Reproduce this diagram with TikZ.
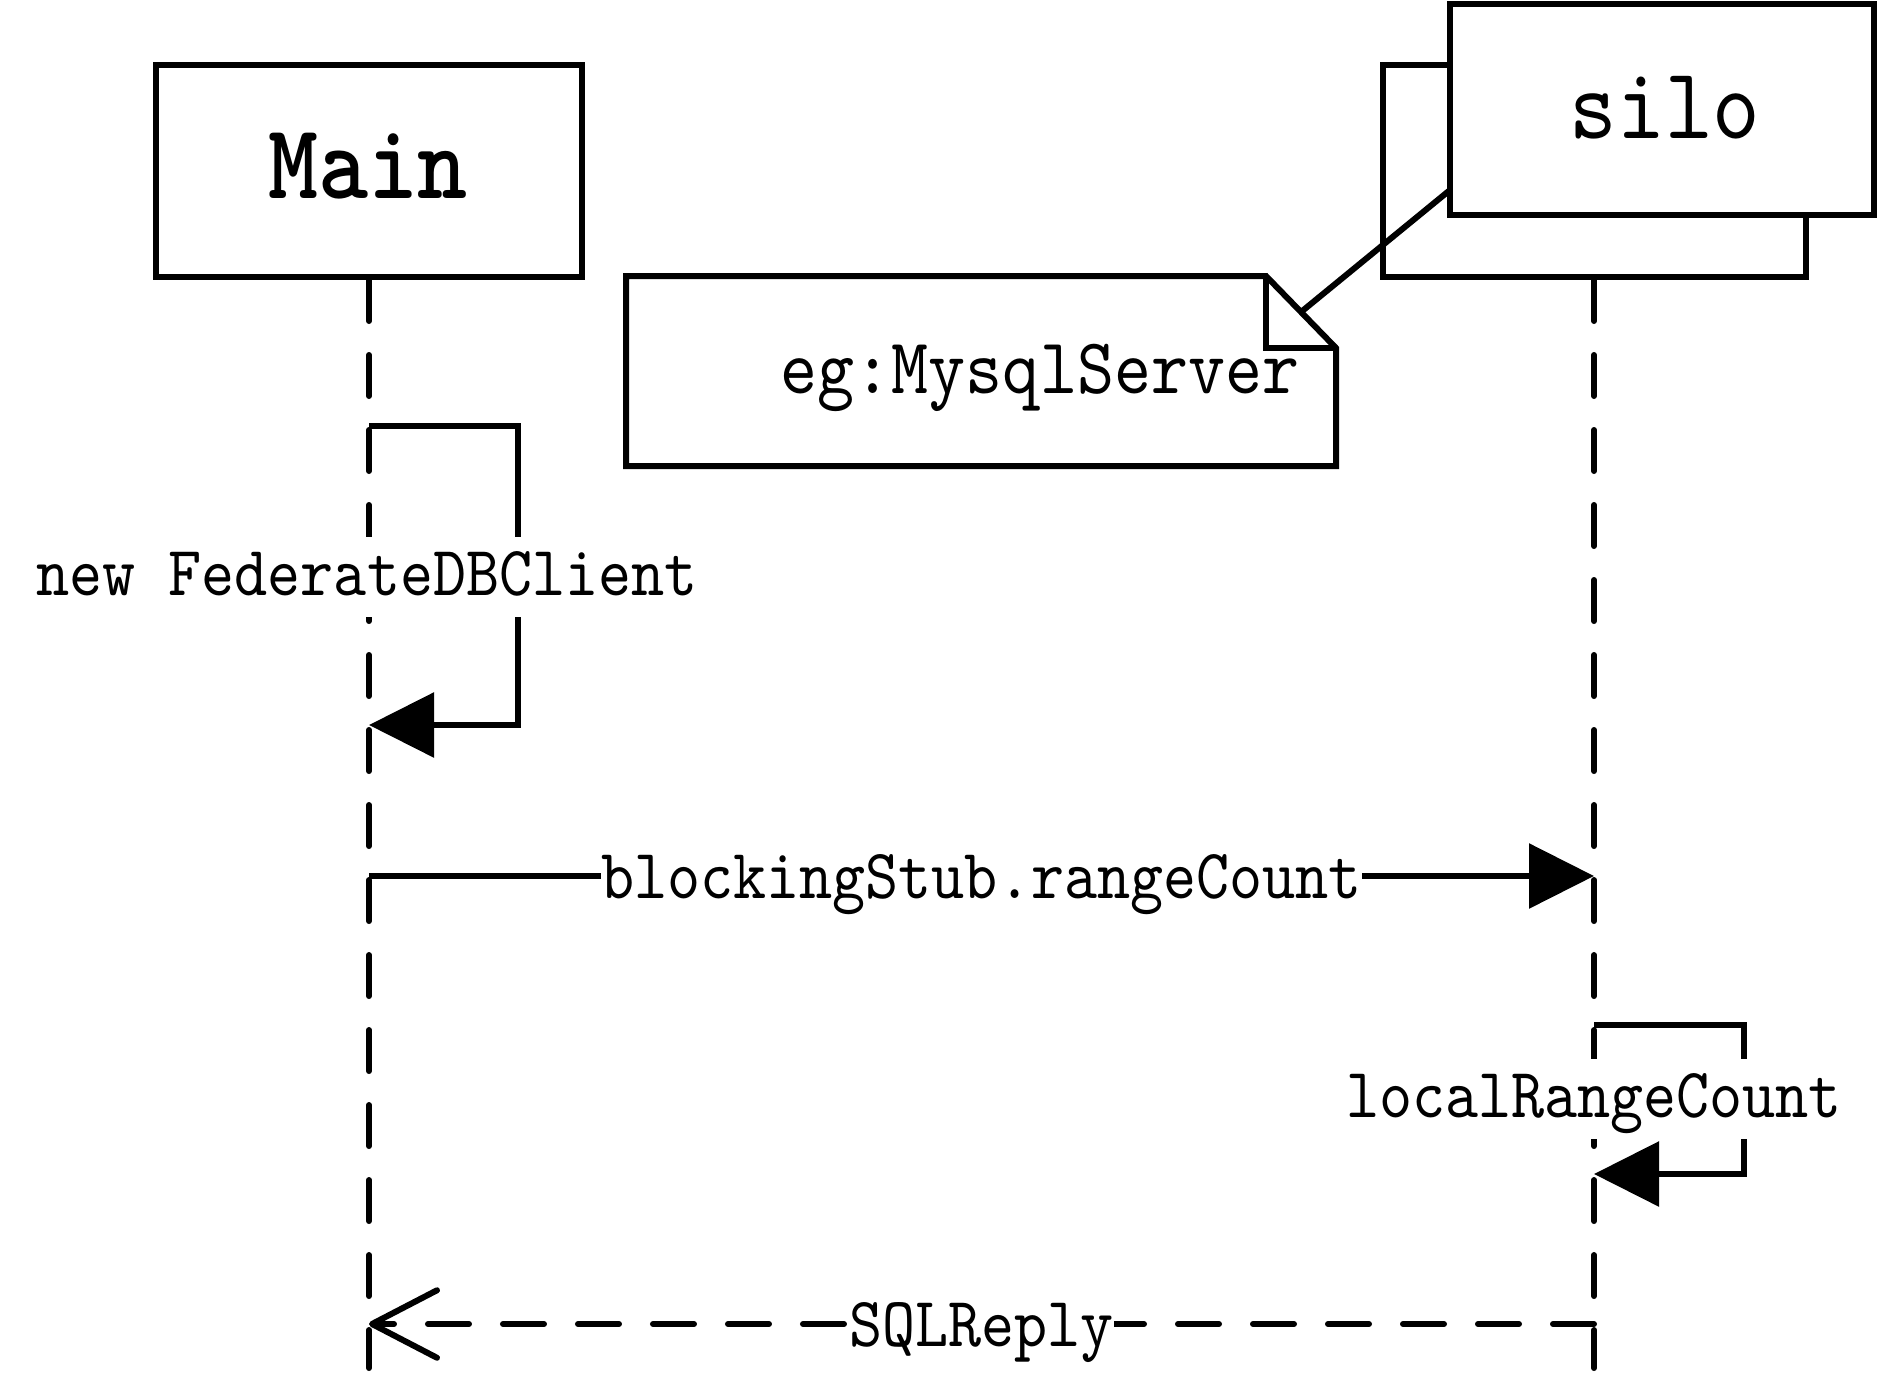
\documentclass[tikz,border=0pt]{standalone}
\usepackage{fontspec}
\newfontfamily\lblfont{lmmono10-regular.otf}[FakeStretch=0.89, BoldFont=lmmonolt10-bold.otf, BoldFeatures={FakeStretch=0.89}]
\usetikzlibrary{arrows.meta,calc}
\begin{document}
\begin{tikzpicture}[x=0.4pt,y=-0.4pt,
  lw/.style={line width=2.4pt},
  objbox/.style={draw, line width=2.4pt, fill=white, inner sep=0pt, line join=miter},
  boxtext/.style={anchor=base, inner sep=0pt},
  lifeline/.style={line width=2.4pt, line cap=round, dash pattern=on 16.4pt off 13.6pt},
  msg/.style={line width=2.4pt, line join=miter, -{Triangle[length=26pt,width=25.6pt]}},
  reply/.style={line width=2.4pt, line cap=round, dash pattern=on 16.4pt off 13.6pt, -{Straight Barb[length=26pt,width=27pt,round]}},
  lbl/.style={font=\lblfont\fontsize{28.3pt}{32pt}\selectfont, fill=white, inner xsep=0pt, inner ysep=0pt, text height=23.2pt, text depth=8.8pt, anchor=base}
]
\useasboundingbox (0,0) rectangle (1881,1388);
\fill[white] (0,0) rectangle (1881,1388);

% objects
\node[objbox, minimum width=170.4pt, minimum height=84.8pt] (main) at (369,171) {};
\node[boxtext, font=\lblfont\bfseries\fontsize{42.8pt}{48pt}\selectfont] (maintext) at (368,198) {Main};
\node[objbox, minimum width=169.2pt, minimum height=84.8pt] (siloback) at (1594,171) {};

% note
\coordinate (nNW) at (626,276);
\coordinate (nF1) at (1266,276);
\coordinate (nF2) at (1336,348);
\coordinate (nFi) at (1266,348);
\coordinate (nSE) at (1336,466);
\coordinate (nSW) at (626,466);
\coordinate (anchorpt) at (1450,190);
\draw[lw, line join=miter] (nNW) -- (nF1) -- (nF2) -- (nSE) -- (nSW) -- cycle;
\draw[lw, line join=miter] (nF1) -- (nFi) -- (nF2);
\node[boxtext, font=\lblfont\fontsize{31.7pt}{36pt}\selectfont] (notetext) at (1040,393) {eg:MysqlServer};
\draw[lw] ($(nF1)!0.5!(nF2)$) -- (anchorpt);

\node[objbox, minimum width=169.6pt, minimum height=84.4pt] (silofront) at (1662,109.5) {};
\node[boxtext, font=\lblfont\fontsize{40.7pt}{46pt}\selectfont] (silotext) at (1665,138) {silo};

% lifelines
\coordinate (bottom) at (0,1368);
\draw[lifeline] (main.south) -- (main.south |- bottom);
\draw[lifeline] (siloback.south) -- (siloback.south |- bottom);

% messages
\coordinate (m1a) at (369,426);
\coordinate (m1b) at (369,725);
\draw[msg] (m1a) -- ++(149,0) |- (m1b);
\node[lbl] (l1) at (367,595) {new FederateDBClient};

\coordinate (m2a) at (369,876);
\coordinate (m2b) at (1594,876);
\draw[msg] (m2a) -- (m2b);
\node[lbl] (l2) at (981.5,898) {blockingStub.rangeCount};

\coordinate (m3a) at (1594,1025);
\coordinate (m3b) at (1594,1174);
\draw[msg] (m3a) -- ++(150,0) |- (m3b);
\node[lbl] (l3) at (1594,1117) {localRangeCount};

\coordinate (m4a) at (1594,1324);
\coordinate (m4b) at (369,1324);
\draw[reply] (m4a) -- (m4b);
\node[lbl] (l4) at (981.5,1346) {SQLReply};
\end{tikzpicture}
\end{document}
